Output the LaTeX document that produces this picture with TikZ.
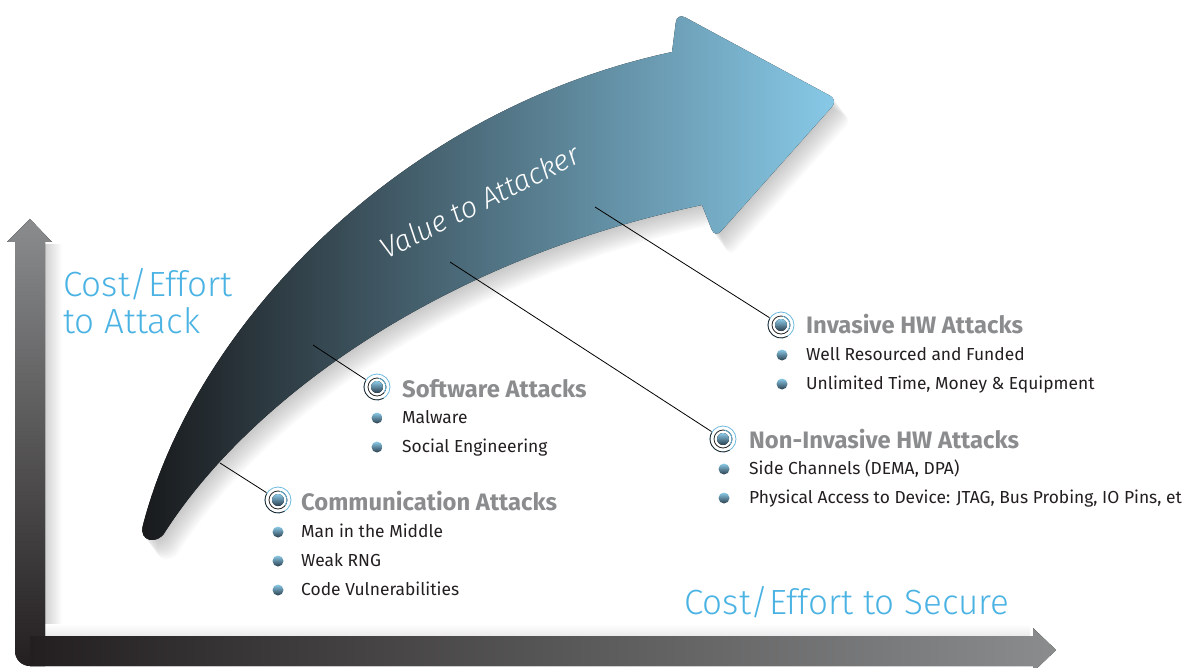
\documentclass[tikz,border=0pt]{standalone}
\usepackage{fontspec}
\setmainfont{Fira Sans}
\newfontfamily\lightfont{Fira Sans Light}[ItalicFont={Fira Sans Light Italic}]
\usetikzlibrary{positioning}

\definecolor{axisgrey}{HTML}{8A8C8D}
\definecolor{axisblack}{HTML}{231F20}
\definecolor{labelblue}{HTML}{4BB3E3}
\definecolor{headgrey}{HTML}{8A8C8E}
\definecolor{bodyblack}{HTML}{231F20}
\definecolor{arrowdark}{HTML}{18191B}
\definecolor{arrowmid}{HTML}{4D6F80}
\definecolor{arrowlight}{HTML}{88CAE8}
\definecolor{dotlight}{HTML}{8CCBE8}
\definecolor{dotdark}{HTML}{2B3F4E}
\definecolor{ringblue}{HTML}{6DB9DE}

% outline of the curved value arrow (pixel units, y down)
\def\valuearrow{(143,525) .. controls (195,325) and (400,110) .. (672,52)
  [rounded corners=9] -- (677,13) -- (838,100) -- (715,238) [sharp corners] -- (702,205)
  .. controls (440,260) and (250,400) .. (165,532)
  .. controls (158,545) and (138,542) .. (143,525) -- cycle}

\tikzset{
  target/.style={circle, inner sep=0pt, minimum size=27pt},
  bullet/.style={circle, inner sep=0pt, minimum size=11pt, top color=dotlight, bottom color=dotdark},
  heading/.style={anchor=base west, inner sep=0pt, text=headgrey, font=\fontsize{23.8}{26}\selectfont\bfseries},
  item/.style={anchor=base west, inner sep=0pt, text=bodyblack, font=\fontsize{17.4}{20}\selectfont},
  axislabel/.style={anchor=base west, inner sep=0pt, text=labelblue, font=\lightfont\fontsize{35}{40}\selectfont},
  valuetext/.style={anchor=base, inner sep=0pt, text=white, font=\lightfont\fontsize{29}{30}\selectfont\itshape},
  leader/.style={black, line width=0.8pt},
}

% ringed marker in front of each attack class
\newcommand{\targetmark}[2]{%
  \node[target] (#1) at #2 {};
  \draw[ringblue, line width=0.8pt] (#1.center) circle [radius=13];
  \draw[black!85, line width=0.8pt] (#1.center) ++(60:13) arc [start angle=60, end angle=210, radius=13];
  \draw[black!85, line width=0.8pt] (#1.center) circle [radius=9];
  \draw[ringblue, line width=0.8pt] (#1.center) ++(-80:9) arc [start angle=-80, end angle=40, radius=9];
  \fill[top color=dotlight, bottom color=dotdark] (#1.center) circle [radius=6];
}

\begin{document}
\begin{tikzpicture}[x=1pt, y=-1pt]
  \useasboundingbox (0,0) rectangle (1191,668);

  % axes
  \fill[left color=black!18, right color=white] (45,245) rectangle (62,636);
  \fill[bottom color=black!8, top color=white] (45,624) rectangle (1030,636);
  \fill[top color=axisgrey, bottom color=axisblack]
           (15,242) -- (15,651) arc [start angle=180, end angle=90, radius=15]
        -- (45,666) -- (45,242) -- (52,242) -- (30,219) -- (7,242) -- cycle;
  \fill[left color=axisblack, right color=axisgrey]
           (30,636) -- (1033,636) -- (1033,628) -- (1056,650)
        -- (1033,672) -- (1033,666) -- (30,666) -- cycle;

  \node[axislabel] (attack1) at (63,297) {Cost/Effort};
  \node[axislabel] (attack2) at (63,333) {to Attack};
  \node[axislabel] (secure) at (684,614) {Cost/Effort to Secure};

  % value arrow with soft shadow
  \foreach \s in {1,...,12}
    \fill[black, opacity=0.02, shift={(\s*1.2,\s*1.6)}] \valuearrow;
  \fill[left color=arrowdark, middle color=arrowmid, right color=arrowlight] \valuearrow;
  \node[valuetext, rotate=26.5] (value) at (484,211) {Value to Attacker};

  % communication attacks
  \targetmark{comm}{(278,500)}
  \node[heading] (comm-title) at (301,510) {Communication Attacks};
  \node[bullet] (comm-b1) at (278,532) {};
  \node[item] (comm-t1) at (301,537) {Man in the Middle};
  \node[bullet] (comm-b2) at (278,561) {};
  \node[item] (comm-t2) at (301,566) {Weak RNG};
  \node[bullet] (comm-b3) at (278,590) {};
  \node[item] (comm-t3) at (301,595) {Code Vulnerabilities};

  % software attacks
  \targetmark{soft}{(377,387)}
  \node[heading] (soft-title) at (402,397) {Software Attacks};
  \node[bullet] (soft-b1) at (377,418) {};
  \node[item] (soft-t1) at (402,423) {Malware};
  \node[bullet] (soft-b2) at (377,447) {};
  \node[item] (soft-t2) at (402,452) {Social Engineering};

  % non-invasive hardware attacks
  \targetmark{noninv}{(723,439)}
  \node[heading] (noninv-title) at (749,448) {Non-Invasive HW Attacks};
  \node[bullet] (noninv-b1) at (724,469) {};
  \node[item] (noninv-t1) at (749,474) {Side Channels (DEMA, DPA)};
  \node[bullet] (noninv-b2) at (724,498) {};
  \node[item] (noninv-t2) at (749,503) {Physical Access to Device: JTAG, Bus Probing, IO Pins, et};

  % invasive hardware attacks
  \targetmark{inv}{(781,325)}
  \node[heading] (inv-title) at (806,334) {Invasive HW Attacks};
  \node[bullet] (inv-b1) at (782,355) {};
  \node[item] (inv-t1) at (806,360) {Well Resourced and Funded};
  \node[bullet] (inv-b2) at (782,384) {};
  \node[item] (inv-t2) at (806,389) {Unlimited Time, Money \& Equipment};

  % leaders from the arrow
  \coordinate (comm-in) at (220,463);
  \coordinate (soft-in) at (313,345);
  \coordinate (noninv-in) at (450,262);
  \coordinate (inv-in) at (595,207);
  \draw[leader] (comm-in) -- (comm);
  \draw[leader] (soft-in) -- (soft);
  \draw[leader] (noninv-in) -- (noninv);
  \draw[leader] (inv-in) -- (inv);
\end{tikzpicture}
\end{document}
